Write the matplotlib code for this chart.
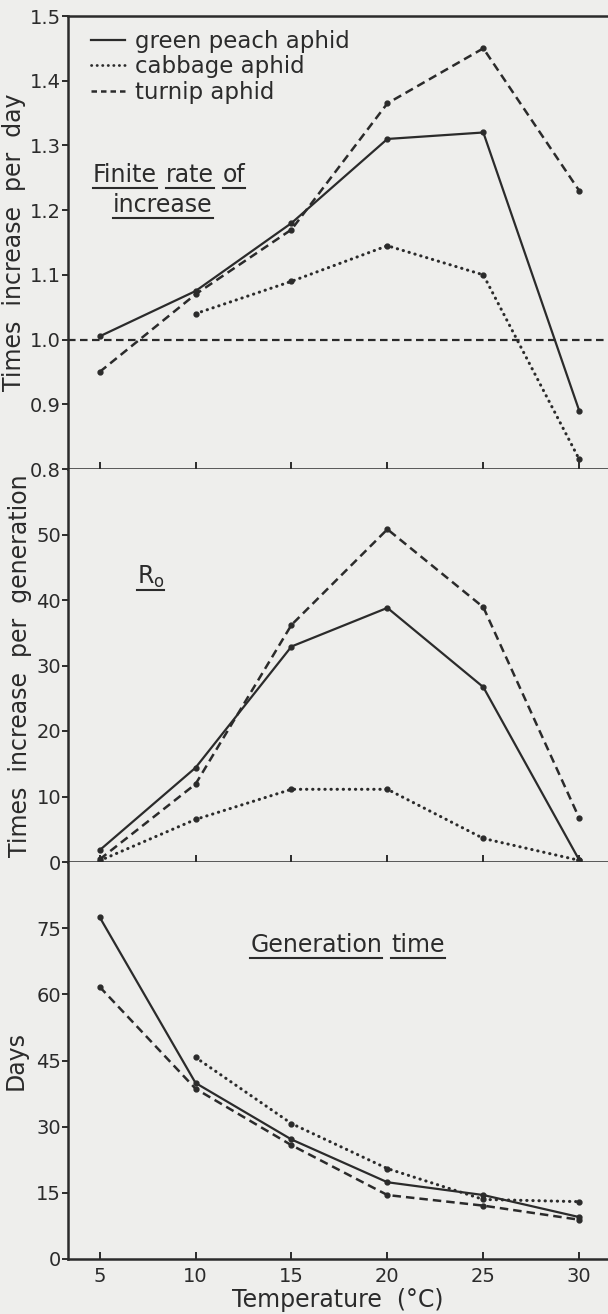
import matplotlib
matplotlib.use("Agg")
import matplotlib.pyplot as plt
from matplotlib.lines import Line2D

# ---------------- data ----------------
temps = [5, 10, 15, 20, 25, 30]
temps_cab = [10, 15, 20, 25, 30]

# Finite rate of increase (times per day)
rate_gpa = [1.005, 1.075, 1.18, 1.31, 1.32, 0.89]
rate_cab = [1.04, 1.09, 1.145, 1.10, 0.815]
rate_tur = [0.95, 1.07, 1.17, 1.365, 1.45, 1.23]

# R0 (times per generation)
r0_gpa = [1.8, 14.4, 32.9, 38.8, 26.7, 0.3]
r0_cab = [0.2, 6.5, 11.1, 11.1, 3.6, 0.25]
r0_tur = [0.4, 11.9, 36.2, 50.8, 38.9, 6.7]

# Generation time (days)
gen_gpa = [77.5, 39.9, 27.1, 17.4, 14.5, 9.5]
gen_cab = [45.7, 30.7, 20.5, 13.5, 13.0]
gen_tur = [61.7, 38.6, 25.8, 14.5, 12.1, 8.9]

species = ["green peach aphid", "cabbage aphid", "turnip aphid"]
xticks = [5, 10, 15, 20, 25, 30]
rate_ticks = [0.8, 0.9, 1.0, 1.1, 1.2, 1.3, 1.4, 1.5]
r0_ticks = [0, 10, 20, 30, 40, 50]
gen_ticks = [0, 15, 30, 45, 60, 75]

# ---------------- style ----------------
BG = "#eeeeec"
INK = "#2b2b2b"
plt.rcParams["font.family"] = ["DejaVu Sans"]

fig = plt.figure(figsize=(6.08, 13.14), dpi=100, facecolor=BG)
H = 1314.0
L = 68 / 608.0
W = 1 - L

DOT = (0, (0.1, 1.9))
DASH = (0, (3.4, 2.0))


def make_ax(top_px, bot_px):
    ax = fig.add_axes([L, 1 - bot_px / H, W, (bot_px - top_px) / H])
    ax.set_facecolor(BG)
    ax.set_xlim(3.35, 31.5)
    ax.spines["right"].set_visible(False)
    for s in ["left", "bottom", "top"]:
        ax.spines[s].set_color(INK)
        ax.spines[s].set_linewidth(1.8)
    ax.spines["top"].set_visible(False)
    ax.tick_params(axis="y", direction="out", length=4, width=1.4, color=INK,
                   labelsize=14, labelcolor=INK, pad=1)
    ax.tick_params(axis="x", direction="in", length=5, width=1.4, color=INK,
                   labelsize=14, labelcolor=INK, pad=6)
    ax.set_xticks(xticks)
    return ax


ax1 = make_ax(16, 469)
ax2 = make_ax(469, 862)
ax3 = make_ax(862, 1259)
ax1.spines["top"].set_visible(True)

solid = dict(color=INK, lw=1.6, linestyle="-", marker="o", ms=3.5)
dotted = dict(color=INK, lw=2.2, linestyle=DOT, marker="o", ms=3.5,
              dash_capstyle="round")
dashed = dict(color=INK, lw=1.8, linestyle=DASH, marker="o", ms=3.5)

# Panel 1
ax1.axhline(1.0, color=INK, lw=1.6, linestyle=DASH)
ax1.plot(temps, rate_gpa, label=species[0], **solid)
ax1.plot(temps_cab, rate_cab, label=species[1], **dotted)
ax1.plot(temps, rate_tur, label=species[2], **dashed)
ax1.set_ylim(0.8, 1.5)
ax1.set_yticks(rate_ticks)
ax1.set_yticklabels([f"{v:.1f}" for v in rate_ticks])
ax1.tick_params(axis="x", labelbottom=False)
ax1.set_ylabel("Times  increase  per  day", fontsize=17, color=INK, labelpad=3)

leg_handles = [Line2D([], [], color=INK, lw=1.6, linestyle="-"),
               Line2D([], [], color=INK, lw=2.0, linestyle=DOT, dash_capstyle="round"),
               Line2D([], [], color=INK, lw=1.8, linestyle=(0, (2.2, 1.6)))]
ax1.legend(leg_handles, species, loc="upper left", frameon=False, fontsize=16.5,
           handlelength=1.5, handletextpad=0.45, labelspacing=0.12,
           borderaxespad=0.0, bbox_to_anchor=(0.025, 0.99),
           labelcolor=INK)

# Panel 2
ax2.plot(temps, r0_gpa, **solid)
ax2.plot(temps, r0_cab, **dotted)
ax2.plot(temps, r0_tur, **dashed)
ax2.set_ylim(0, 60)
ax2.set_yticks(r0_ticks)
ax2.tick_params(axis="x", labelbottom=False)
ax2.set_ylabel("Times  increase  per  generation", fontsize=17, color=INK, labelpad=3)

# Panel 3
ax3.plot(temps, gen_gpa, **solid)
ax3.plot(temps_cab, gen_cab, **dotted)
ax3.plot(temps, gen_tur, **dashed)
ax3.set_ylim(0, 90)
ax3.set_yticks(gen_ticks)
ax3.set_ylabel("Days", fontsize=17, color=INK, labelpad=6)
ax3.set_xlabel("Temperature  (°C)", fontsize=17, color=INK, labelpad=1)

# ---------------- underlined annotations ----------------
words = []
fig.canvas.draw()
r = fig.canvas.get_renderer()


def word(ax, x, y, s, size=17):
    t = ax.text(x, y, s, fontsize=size, color=INK, ha="left", va="baseline")
    words.append((ax, t, y))
    return t


def line_of_words(ax, x, y, items, size=17, gap_px=9):
    t = word(ax, x, y, items[0], size)
    fig.canvas.draw()
    for s in items[1:]:
        bb = t.get_window_extent(r)
        xd = ax.transData.inverted().transform((bb.x1 + gap_px, 0))[0]
        t = word(ax, xd, y, s, size)
        fig.canvas.draw()


line_of_words(ax1, 4.64, 1.243, ["Finite", "rate", "of"])
line_of_words(ax1, 5.69, 1.197, ["increase"])
rt = ax2.text(6.93, 42.5, r"R$_{\mathregular{o}}$", fontsize=17, color=INK,
              ha="left", va="baseline")
words.append((ax2, rt, 42.5))
line_of_words(ax3, 12.86, 69.5, ["Generation", "time"])

fig.canvas.draw()
inv = fig.transFigure.inverted()
for ax, t, y in words:
    bb = t.get_window_extent(r)
    yb = ax.transData.transform((0, y))[1] - 6
    (x0, yy), = inv.transform([(bb.x0, yb)])
    (x1, _), = inv.transform([(bb.x1, yb)])
    fig.add_artist(Line2D([x0, x1], [yy, yy], color=INK, lw=1.5,
                          transform=fig.transFigure))

fig.savefig("out.png", dpi=100, facecolor=BG)
